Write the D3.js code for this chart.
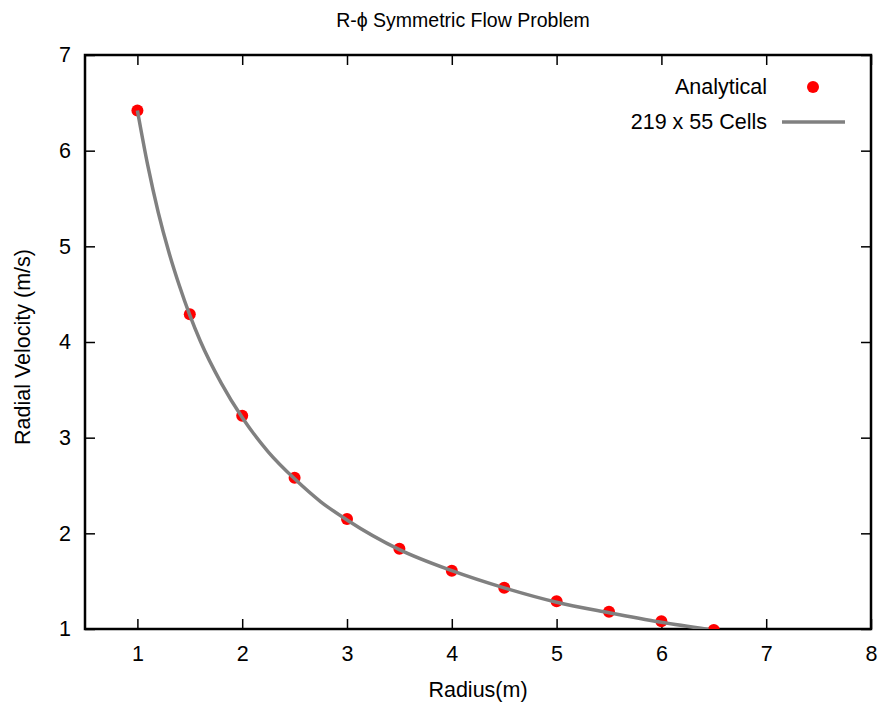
<!DOCTYPE html>
<html>
<head>
<meta charset="utf-8">
<script src="https://cdn.jsdelivr.net/npm/d3@7"></script>
<style>
  body { margin: 0; background: #fff; }
  text { font-family: "Liberation Sans", Arial, sans-serif; fill: #000; }
</style>
</head>
<body>
<svg id="chart" width="883" height="708"></svg>
<script>
// analytical solution
const radius = [1, 1.5, 2, 2.5, 3, 3.5, 4, 4.5, 5, 5.5, 6, 6.5]
const analytical = [6.42, 4.29, 3.23, 2.58, 2.15, 1.84, 1.61, 1.43, 1.29, 1.18, 1.08, 0.99]

// 219 x 55 cells simulation curve
const cellRadius = [1, 1.1, 1.2, 1.3, 1.4, 1.5, 1.6, 1.8, 2, 2.25, 2.5, 2.75, 3, 3.5, 4, 4.5, 5, 5.5, 6, 6.45]
const cellVelocity = [6.42, 5.84, 5.35, 4.94, 4.59, 4.28, 4.01, 3.57, 3.21, 2.85, 2.57, 2.33, 2.14, 1.83, 1.61, 1.43, 1.28, 1.17, 1.07, 0.995]

const xTicks = [1, 2, 3, 4, 5, 6, 7, 8]
const yTicks = [1, 2, 3, 4, 5, 6, 7]

const margin = { top: 55, right: 12, bottom: 79, left: 85 }
const width = 883, height = 708
const svg = d3.select('#chart')

const x = d3.scaleLinear().domain([0.5, 8]).range([margin.left, width - margin.right])
const y = d3.scaleLinear().domain([1, 7]).range([height - margin.bottom, margin.top])

svg.append('clipPath').attr('id', 'plot-clip')
  .append('rect')
  .attr('x', x(0.5)).attr('y', y(7))
  .attr('width', x(8) - x(0.5)).attr('height', y(1) - y(7))

const tickLen = 10
const fontSize = 21.5
const dotRadius = 6

// axes: ticks point inward, mirrored on top and right
const bottomAxis = svg.append('g')
  .attr('transform', `translate(0,${y(1)})`)
  .call(d3.axisBottom(x).tickValues(xTicks).tickSize(-tickLen).tickPadding(17).tickFormat(d3.format('d')))
const topAxis = svg.append('g')
  .attr('transform', `translate(0,${y(7)})`)
  .call(d3.axisTop(x).tickValues(xTicks).tickSize(-tickLen).tickFormat(''))
const leftAxis = svg.append('g')
  .attr('transform', `translate(${x(0.5)},0)`)
  .call(d3.axisLeft(y).tickValues(yTicks).tickSize(-tickLen).tickPadding(14).tickFormat(d3.format('d')))
const rightAxis = svg.append('g')
  .attr('transform', `translate(${x(8)},0)`)
  .call(d3.axisRight(y).tickValues(yTicks).tickSize(-tickLen).tickFormat(''))

;[bottomAxis, topAxis, leftAxis, rightAxis].forEach(g => {
  g.select('.domain').remove()
  g.selectAll('line').attr('stroke', '#000').attr('stroke-width', 1.5)
  g.selectAll('text').attr('font-size', fontSize)
    .attr('font-family', '"Liberation Sans", Arial, sans-serif')
})

// frame
svg.append('rect')
  .attr('x', x(0.5)).attr('y', y(7))
  .attr('width', x(8) - x(0.5)).attr('height', y(1) - y(7))
  .attr('fill', 'none').attr('stroke', '#000').attr('stroke-width', 2.5)

const plot = svg.append('g').attr('clip-path', 'url(#plot-clip)')

const line = d3.line()
  .x((d, i) => x(cellRadius[i]))
  .y(d => y(d))
  .curve(d3.curveMonotoneX)

plot.append('g')
  .selectAll('circle')
  .data(analytical)
  .enter().append('circle')
  .attr('cx', (d, i) => x(radius[i]))
  .attr('cy', d => y(d))
  .attr('r', dotRadius)
  .attr('fill', '#ff0000')

plot.append('path')
  .datum(cellVelocity)
  .attr('d', line)
  .attr('fill', 'none')
  .attr('stroke', '#808080')
  .attr('stroke-width', 3.5)

// legend
const legend = svg.append('g')
legend.append('text')
  .attr('x', 767).attr('y', 87)
  .attr('text-anchor', 'end').attr('dominant-baseline', 'central')
  .attr('font-size', fontSize)
  .text('Analytical')
legend.append('circle')
  .attr('cx', 813).attr('cy', 87).attr('r', dotRadius).attr('fill', '#ff0000')
legend.append('text')
  .attr('x', 767).attr('y', 122)
  .attr('text-anchor', 'end').attr('dominant-baseline', 'central')
  .attr('font-size', fontSize)
  .text('219 x 55 Cells')
legend.append('line')
  .attr('x1', 782).attr('x2', 845).attr('y1', 122).attr('y2', 122)
  .attr('stroke', '#808080').attr('stroke-width', 3.5)

// titles
svg.append('text')
  .attr('x', 463).attr('y', 27)
  .attr('text-anchor', 'middle')
  .attr('font-size', 19.5)
  .text('R-ϕ Symmetric Flow Problem')

svg.append('text')
  .attr('x', 478).attr('y', 697)
  .attr('text-anchor', 'middle')
  .attr('font-size', fontSize)
  .text('Radius(m)')

svg.append('text')
  .attr('transform', `translate(30,${(y(1) + y(7)) / 2 + 5}) rotate(-90)`)
  .attr('text-anchor', 'middle')
  .attr('font-size', fontSize)
  .text('Radial Velocity (m/s)')
</script>
</body>
</html>
